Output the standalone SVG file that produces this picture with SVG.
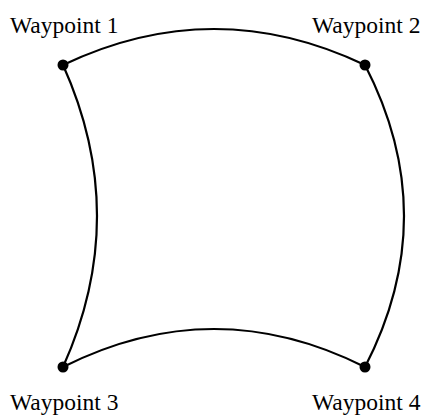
<svg xmlns="http://www.w3.org/2000/svg" width="422" height="415" viewBox="0 0 422 415">
<style>
.edge{fill:none;stroke:#000;stroke-width:2.2}
.dot{fill:#000}
.lbl{font-family:"Liberation Serif","Times New Roman",serif;font-size:23.5px;fill:#000}
</style>
<rect width="422" height="415" fill="#fff"/>
<g id="connectors">
<path class="edge" d="M63,65 Q214,-7 365,65"/>
<path class="edge" d="M63,65 Q131,216 63,367"/>
<path class="edge" d="M365,65 Q443,216 365,367"/>
<path class="edge" d="M63,367 Q214,291 365,367"/>
</g>
<g id="wp1"><circle class="dot" cx="63" cy="65" r="5.5"/><text class="lbl" x="10" y="33">Waypoint 1</text></g>
<g id="wp2"><circle class="dot" cx="365" cy="65" r="5.5"/><text class="lbl" x="312" y="33">Waypoint 2</text></g>
<g id="wp3"><circle class="dot" cx="63" cy="367" r="5.5"/><text class="lbl" x="10" y="410">Waypoint 3</text></g>
<g id="wp4"><circle class="dot" cx="365" cy="367" r="5.5"/><text class="lbl" x="312" y="410">Waypoint 4</text></g>
</svg>
